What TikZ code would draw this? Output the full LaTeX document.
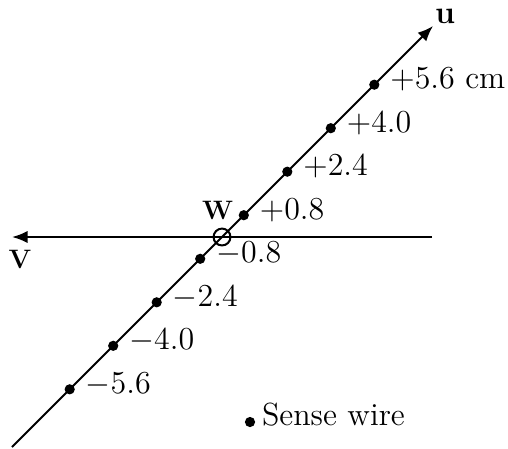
\documentclass[tikz,border=0pt]{standalone}
\usetikzlibrary{arrows.meta}

\begin{document}
\begin{tikzpicture}[x=0.45pt, y=0.45pt, line width=0.9pt,
    wire/.style={circle, fill, inner sep=0pt, minimum size=4.6pt},
    tick/.style={anchor=base west, inner sep=0pt, xshift=6.8pt, yshift=-1.8pt, font=\Large},
    axis/.style={-{Latex[length=7pt, width=5.5pt]}}]

    \useasboundingbox (0,0) rectangle (508,448);

    % Define the points of the axes
    \coordinate (uS) at (12,1);
    \coordinate (uE) at (433,422);
    \coordinate (vS) at (432,211);
    \coordinate (vE) at (12,211);

    % Draw the axes
    \draw[axis] (uS) -- (uE);
    \draw[axis] (vS) -- (vE);
    \node (W) at (222,211) [circle, draw, inner sep=0pt, minimum size=7.6pt] {};

    % Place the sense wires
    \node (p56) at (374.3,363.3) [wire] {};
    \node (p40) at (330.8,319.8) [wire] {};
    \node (p24) at (287.3,276.3) [wire] {};
    \node (p08) at (243.8,232.8) [wire] {};
    \node (m08) at (200.2,189.2) [wire] {};
    \node (m24) at (156.7,145.7) [wire] {};
    \node (m40) at (113.2,102.2) [wire] {};
    \node (m56) at (69.7,58.7) [wire] {};

    % Place the distances
    \node (lp56) at (p56) [tick] {$+5.6$ cm};
    \node (lp40) at (p40) [tick] {$+4.0$};
    \node (lp24) at (p24) [tick] {$+2.4$};
    \node (lp08) at (p08) [tick] {$+0.8$};
    \node (lm08) at (m08) [tick] {$-0.8$};
    \node (lm24) at (m24) [tick] {$-2.4$};
    \node (lm40) at (m40) [tick] {$-4.0$};
    \node (lm56) at (m56) [tick] {$-5.6$};

    % Place the axis labels
    \node (lu) at (445,432) [inner sep=0pt, font=\Large\bfseries] {u};
    \node (lv) at (20,189) [font=\large\bfseries] {V};
    \node (lw) at (217.5,238) [font=\large\bfseries] {W};

    % Legend
    \node (key) at (250,26) [wire] {};
    \node (keytext) at (261,23) [anchor=base west, inner sep=0pt, font=\Large] {Sense wire};

\end{tikzpicture}
\end{document}
